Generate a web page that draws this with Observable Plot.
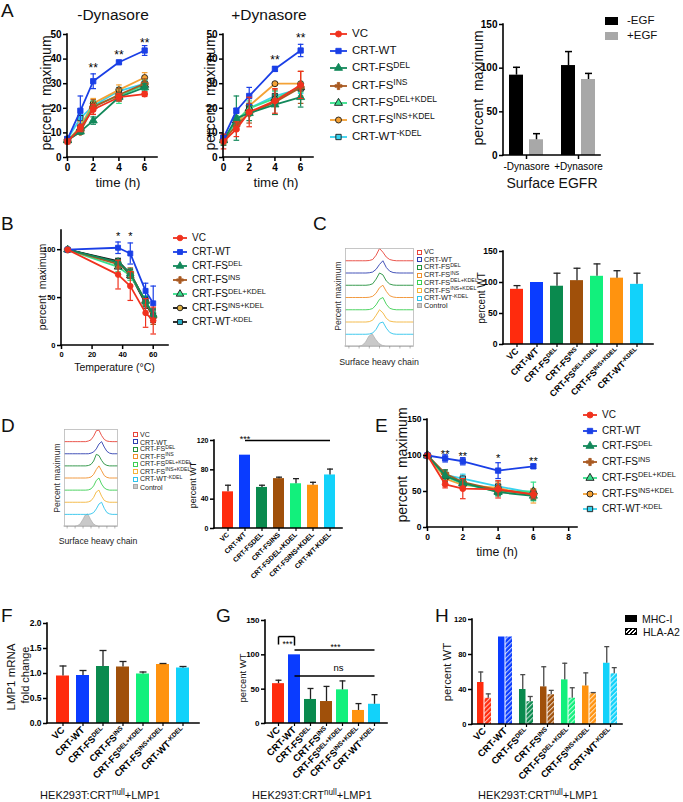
<!DOCTYPE html>
<html><head><meta charset="utf-8">
<script src="https://cdn.jsdelivr.net/npm/d3@7"></script>
<script src="https://cdn.jsdelivr.net/npm/@observablehq/plot@0.6"></script>
<style>
html,body{margin:0;padding:0;background:#fff;}
#fig{position:relative;width:683px;height:802px;overflow:hidden;background:#fff;font-family:"Liberation Sans",Arial,Helvetica,sans-serif;color:#111;}
#fig > svg{position:absolute;}
.t{position:absolute;white-space:nowrap;line-height:1;transform-origin:0 0;}
.sup{font-size:0.74em;position:relative;top:-0.45em;}
.sq{position:absolute;box-sizing:border-box;}
</style></head><body><div id="fig"></div>
<script>
// ================= DATA =================
const SERIES = ["VC","CRT-WT","CRT-FS^DEL","CRT-FS^INS","CRT-FS^DEL+KDEL","CRT-FS^INS+KDEL","CRT-WT^-KDEL"];
const lineColors = ["#f0321e","#1a3fe6","#12885a","#a95a22","#38e08c","#f4a236","#38d2ee"];
const barColors  = ["#ff2b0d","#0a3cff","#0a8a4e","#a0500a","#12f07c","#ff930f","#12d2fa"];
const histColors = ["#e8443a","#2f3fb0","#23903c","#f0902c","#3ccf52","#f3b43a","#2ec4ec"];
const SYMBOLS = ["circle","square","triangle","cross","triangle","circle","square"];

// Panel A: time course, -Dynasore / +Dynasore
const timesA = [0,1,2,4,6];
const dynMinusMean = [
 [6.5,12,19.5,24.5,25.8],
 [7.5,19,31,38.7,43.5],
 [7,10.5,15,24.5,28.5],
 [7,10.5,20.5,25.5,30],
 [7,12,21,25,29.5],
 [7,12.5,22,27.5,32.5],
 [7.5,16,21,27,30]];
const dynMinusErr = [
 [1,1.5,2,1.5,1],
 [1,6,3,0.5,2],
 [1,1,1.5,1.5,1.5],
 [1,1,3,2.5,2],
 [1,1.5,2,3,2],
 [1,2,2,2,2],
 [1,1.5,1.5,1.5,1.5]];
const dynPlusMean = [
 [6.5,11.5,18.5,23,29.5],
 [8,19,25,36,43.5],
 [7,16,18,21.5,24.5],
 [7,13,18,22.5,28.5],
 [7,15,20,24,28.5],
 [7,13,21,30,30],
 [8,14,20,25,28]];
const dynPlusErr = [
 [3,3,6,5,5.5],
 [1,1,3.5,1,2.5],
 [2,9,3,4,4],
 [2,2,4,5,6.5],
 [1.5,2,3,3,2],
 [1.5,2,3,0.5,5],
 [1,2,2,2,2]];
const starsMinusT = [2,4,6], starsMinusY = [37.6,42.8,47.6], starsMinusS = ["**","**","**"];
const starsPlusT = [4,6], starsPlusY = [40.8,49.6], starsPlusS = ["**","**"];

// Panel A: surface EGFR
const egfrGroups = ["-Dynasore","+Dynasore"];
const egfrMinusEGF = [92,103], egfrMinusEGFErr = [9,16];
const egfrPlusEGF = [18,87], egfrPlusEGFErr = [7,7];

// Panel B: thermostability
const tempsB = [4,37,45,55,60];
const bMean = [
 [100,74,62,34,26],
 [100,102,96,57,44],
 [100,87,75,46,32],
 [100,85,76,45,30],
 [100,82,73,47,31],
 [100,87,74,44,30],
 [100,88,75,46,32]];
const bErr = [
 [0,15,15,15,14],
 [0,6,11,8,18],
 [0,3,5,5,6],
 [0,4,5,4,8],
 [0,5,5,5,4],
 [0,3,4,5,6],
 [0,3,4,4,6]];
const starsBT = [37,45], starsBY = [117,117], starsBS = ["*","*"];

// Panel C / D bars (percent WT)
const cVals = [89,100,94,103,110,107,97], cErr = [6,0,21,20,20,12,18];
const dVals = [50,100,56,68,61,59,73], dErr = [9,0,3,2,7,4,8];

// Histograms (fraction of maximum per bin)
const histBins = [0,1,2,3,4,5,6,7,8,9,10,11,12,13,14,15,16,17,18,19,20];
const histC = [
 [0,0,0,0,0,0,0,0.02,0.1,0.45,1,0.7,0.3,0.1,0.03,0,0,0,0,0,0],
 [0,0,0,0,0,0,0,0.02,0.08,0.3,0.7,1,0.45,0.15,0.04,0.01,0,0,0,0,0],
 [0,0,0,0,0,0,0,0.03,0.12,0.5,1,0.85,0.35,0.1,0.02,0,0,0,0,0,0],
 [0,0,0,0,0,0,0,0.02,0.1,0.35,0.8,1,0.5,0.15,0.04,0,0,0,0,0,0],
 [0,0,0,0,0,0,0,0.02,0.1,0.4,0.85,1,0.45,0.12,0.03,0,0,0,0,0,0],
 [0,0,0,0,0,0,0,0.03,0.15,0.55,1,0.75,0.3,0.08,0.02,0,0,0,0,0,0],
 [0,0,0,0,0,0,0,0.02,0.1,0.4,0.9,1,0.5,0.15,0.03,0,0,0,0,0,0]];
const histCControl = [0,0,0,0,0,0.05,0.3,0.8,1,0.55,0.2,0.05,0,0,0,0,0,0,0,0,0];
const histD = [
 [0,0,0,0,0,0,0,0,0,0.05,0.15,0.45,0.9,0.95,0.5,0.18,0.05,0.01,0,0,0],
 [0,0,0,0,0,0,0,0,0,0,0.05,0.15,0.4,0.8,1,0.55,0.2,0.05,0,0,0],
 [0,0,0,0,0,0,0,0,0,0.03,0.12,0.4,0.95,0.85,0.45,0.15,0.04,0,0,0,0],
 [0,0,0,0,0,0,0,0,0,0.02,0.08,0.3,0.7,1,0.6,0.2,0.05,0,0,0,0],
 [0,0,0,0,0,0,0,0,0,0.02,0.1,0.35,0.8,1,0.5,0.18,0.05,0,0,0,0],
 [0,0,0,0,0,0,0,0,0,0.03,0.12,0.4,0.85,1,0.5,0.15,0.04,0,0,0,0],
 [0,0,0,0,0,0,0,0,0,0,0.04,0.15,0.45,0.85,1,0.5,0.15,0.04,0,0,0]];
const histDControl = [0,0,0,0,0,0.03,0.15,0.5,0.9,1,0.55,0.2,0.05,0,0,0,0,0,0,0,0];

// Panel E: time course
const timesE = [0,1,2,4,6];
const eMean = [
 [100,60,54,53,46],
 [100,96,92,79,85],
 [100,72,62,49,44],
 [100,75,63,52,46],
 [100,71,61,50,50],
 [100,68,59,55,44],
 [100,73,68,57,48]];
const eErr = [
 [0,5,14,12,5],
 [0,5,5,11,3],
 [0,8,5,5,6],
 [0,5,4,6,7],
 [0,6,5,6,13],
 [0,5,5,8,10],
 [0,4,6,7,5]];
const starsET = [1,2,4,6], starsEY = [104.6,103,100,96], starsES = ["**","**","*","**"];

// Panel F, G, H
const fVals = [0.95,0.96,1.14,1.13,0.99,1.18,1.11], fErr = [0.2,0.1,0.32,0.11,0.04,0.02,0.03];
const gVals = [58,100,35,32,49,19,28], gErr = [5,0,16,22,13,10,14];
const hMHC = [48,100,40,43,51,44,70], hMHCErr = [12,0,17,23,19,15,19];
const hHLA = [30,100,26,34,30,36,58], hHLAErr = [5,0,6,5,12,0.5,7];

// ================= HELPERS =================
const fig = document.getElementById("fig");
const FONT = "'Liberation Sans', Arial, Helvetica, sans-serif";
const baseStyle = {background: "transparent", overflow: "visible", fontFamily: FONT, fontSize: "10px", color: "#000"};
const capSym = {draw(ctx, size) { const w = Math.sqrt(size / Math.PI); ctx.moveTo(-w, 0); ctx.lineTo(w, 0); }};
const d3sym = {circle: d3.symbolCircle, square: d3.symbolSquare, triangle: d3.symbolTriangle, cross: d3.symbolCross};
const supHTML = s => { const i = s.indexOf("^"); return i < 0 ? s : s.slice(0, i) + `<span class="sup">${s.slice(i + 1)}</span>`; };
const intFmt = d3.format("d");

function frame(l, r, t, b, m = {}) {
  const ml = m.ml ?? 36, mr = m.mr ?? 14, mt = m.mt ?? 18, mb = m.mb ?? 30;
  const left = l - ml, top = t - mt;
  return {left, top, X: a => a - left,
    opts: {width: ml + (r - l) + mr, height: mt + (b - t) + mb, marginLeft: ml, marginRight: mr, marginTop: mt, marginBottom: mb}};
}
function place(svg, F) {
  svg.style.position = "absolute";
  svg.style.left = F.left + "px";
  svg.style.top = F.top + "px";
  svg.style.maxWidth = "none";
  fig.appendChild(svg);
  return svg;
}
function addText(html, x, y, o = {}) {
  const d = document.createElement("div");
  d.className = "t";
  d.innerHTML = html;
  d.style.fontSize = (o.size || 12) + "px";
  if (o.weight) d.style.fontWeight = o.weight;
  if (o.family) d.style.fontFamily = o.family;
  if (o.color) d.style.color = o.color;
  d.style.left = x + "px"; d.style.top = y + "px";
  const ax = {start: "0%", middle: "-50%", end: "-100%"}[o.anchor || "start"];
  d.style.transform = (o.rotate ? `rotate(${o.rotate}deg) ` : "") + `translate(${ax},-50%)`;
  fig.appendChild(d);
  return d;
}
function supify(svg) {
  d3.select(svg).selectAll("text").each(function () {
    const t = this.textContent, i = t.indexOf("^");
    if (i < 0) return;
    const sel = d3.select(this);
    sel.text(null);
    sel.append("tspan").text(t.slice(0, i));
    sel.append("tspan").attr("dy", "-0.45em").style("font-size", "68%").text(t.slice(i + 1));
  });
}
const axisLines = (sw = 1.6) => (index, scales, values, dims) => {
  const {width, height, marginLeft: ml, marginRight: mr, marginTop: mt, marginBottom: mb} = dims;
  const g = d3.create("svg:g").attr("stroke", "#000").attr("stroke-width", sw).attr("stroke-linecap", "square");
  g.append("line").attr("x1", ml).attr("x2", ml).attr("y1", mt).attr("y2", height - mb);
  g.append("line").attr("x1", ml).attr("x2", width - mr).attr("y1", height - mb).attr("y2", height - mb);
  return g.node();
};
const yAx = (ticks, fontSize, fmt = intFmt) => Plot.axisY({ticks, tickSize: 4, tickPadding: 2, fontSize, fontWeight: "bold", strokeWidth: 1.5, label: null, tickFormat: fmt});
const xAx = (ticks, fontSize) => Plot.axisX({ticks, tickSize: 4, tickPadding: 2, fontSize, fontWeight: "bold", strokeWidth: 1.5, label: null, tickFormat: intFmt});

function lineMarks(times, means, errs, lc, mf, mo, r = 3) {
  const marks = [];
  for (let s = SERIES.length - 1; s >= 0; s--) {
    const rows = times.map((t, k) => ({t, m: means[s][k], e: errs[s][k]}));
    const er = rows.filter(d => d.e > 0);
    marks.push(
      Plot.ruleX(er, {x: "t", y1: d => d.m - d.e, y2: d => d.m + d.e, stroke: lc[s], strokeWidth: 1.2}),
      Plot.dot(er, {x: "t", y: d => d.m + d.e, symbol: capSym, r: 2.8, stroke: lc[s], fill: "none", strokeWidth: 1.2}),
      Plot.dot(er, {x: "t", y: d => d.m - d.e, symbol: capSym, r: 2.8, stroke: lc[s], fill: "none", strokeWidth: 1.2}),
      Plot.line(rows, {x: "t", y: "m", stroke: lc[s], strokeWidth: 1.8}),
      Plot.dot(rows, {x: "t", y: "m", symbol: SYMBOLS[s], r, fill: mf[s], stroke: mo[s] || mf[s], strokeWidth: 0.9})
    );
  }
  return marks;
}
const starMarks = (T, Y, S, size = 12) =>
  Plot.text(T.map((t, i) => ({t, y: Y[i], s: S[i]})), {x: "t", y: "y", text: "s", fontSize: size, lineAnchor: "middle", dy: size * 0.25, fill: "#000"});

function lineLegend(x, y0, dy, size, len, lc, mf, mo, r = 3) {
  SERIES.forEach((name, i) => {
    const y = y0 + i * dy;
    const svg = d3.create("svg").attr("width", len).attr("height", 12)
      .style("position", "absolute").style("left", x + "px").style("top", (y - 6) + "px").style("overflow", "visible");
    svg.append("line").attr("x1", 0).attr("x2", len).attr("y1", 6).attr("y2", 6).attr("stroke", lc[i]).attr("stroke-width", 1.8);
    svg.append("path").attr("transform", `translate(${len / 2},6)`)
      .attr("d", d3.symbol(d3sym[SYMBOLS[i]], Math.PI * r * r)())
      .attr("fill", mf[i]).attr("stroke", mo[i] || mf[i]).attr("stroke-width", 0.9);
    fig.appendChild(svg.node());
    addText(supHTML(name), x + len + 5, y, {size});
  });
}
function histLegend(x, y0, dy, size, sq, colors) {
  const names = SERIES.concat(["Control"]);
  names.forEach((name, i) => {
    const y = y0 + i * dy;
    const d = document.createElement("div");
    d.className = "sq";
    d.style.left = x + "px"; d.style.top = (y - sq / 2) + "px";
    d.style.width = sq + "px"; d.style.height = sq + "px";
    if (i < 7) d.style.border = "1px solid " + colors[i];
    else { d.style.background = "#c9c9c9"; d.style.border = "1px solid #a8a8a8"; }
    fig.appendChild(d);
    addText(supHTML(name), x + sq + 2, y, {size, color: "#222"});
  });
}
function histMarks(samples, control) {
  const marks = [];
  const crow = histBins.map((b, k) => ({b, lo: 0, hi: control[k]}));
  marks.push(Plot.areaY(crow, {x: "b", y1: "lo", y2: "hi", fill: "#c9c9c9", stroke: "#a5a5a5", strokeWidth: 0.6}));
  samples.forEach((arr, s) => {
    const base = samples.length - s;
    const rows = histBins.map((b, k) => ({b, y: base + arr[k]}));
    marks.push(Plot.line(rows, {x: "b", y: "y", stroke: histColors[s], strokeWidth: 0.9}));
  });
  marks.push(Plot.frame({stroke: "#b8b8b8", strokeWidth: 0.8}));
  marks.push(Plot.axisX({ticks: [1, 4, 7, 10, 13, 16, 19], tickSize: 2.5, tickFormat: () => "", stroke: "#888", strokeWidth: 0.6, label: null}));
  return marks;
}
const barRows = (vals, errs, names = SERIES) => names.map((name, i) => ({name, v: vals[i], e: errs[i], col: barColors[i]}));
function barMarks(rows, errColor, capR, opts = {}) {
  const er = rows.filter(d => d.e > 0);
  const {dxErr = 0, ...barOpts} = opts;
  return [
    Plot.barY(rows, {x: "name", y: "v", fill: "col", ...barOpts}),
    Plot.ruleX(er, {x: "name", y1: "v", y2: d => d.v + d.e, stroke: errColor, strokeWidth: 1.3, dx: dxErr}),
    Plot.dot(er, {x: "name", y: d => d.v + d.e, symbol: capSym, r: capR, stroke: errColor, fill: "none", strokeWidth: 1.3, dx: dxErr})
  ];
}
const catAxis = (fontSize) => Plot.axisX({tickRotate: -45, tickSize: 3, tickPadding: 2, fontSize, fontWeight: "bold", strokeWidth: 1.2, label: null});

// ================= PANEL A =================
const mfA = lineColors, moA = [null, null, null, null, "#1a1a1a", "#1a1a1a", "#1a1a1a"];
addText("A", 1, 10, {size: 19});
addText("-Dynasore", 113, 15, {size: 15.5, anchor: "middle"});
addText("+Dynasore", 269, 15, {size: 15.5, anchor: "middle"});
{
  const F = frame(67, 157, 34, 157);
  place(Plot.plot({...F.opts, style: baseStyle, x: {domain: [0, 7]}, y: {domain: [0, 50]},
    marks: [...lineMarks(timesA, dynMinusMean, dynMinusErr, lineColors, mfA, moA),
      starMarks(starsMinusT, starsMinusY, starsMinusS), axisLines(),
      xAx([0, 2, 4, 6], 10), yAx([0, 10, 20, 30, 40, 50], 10)]}), F);
}
{
  const F = frame(223, 313, 34, 157);
  place(Plot.plot({...F.opts, style: baseStyle, x: {domain: [0, 7]}, y: {domain: [0, 50]},
    marks: [...lineMarks(timesA, dynPlusMean, dynPlusErr, lineColors, mfA, moA),
      starMarks(starsPlusT, starsPlusY, starsPlusS), axisLines(),
      xAx([0, 2, 4, 6], 10), yAx([0, 10, 20, 30, 40, 50], 10)]}), F);
}
addText("percent&nbsp; maximum", 46, 93, {size: 14, anchor: "middle", rotate: -90});
addText("percent&nbsp; maximum", 210, 93, {size: 14, anchor: "middle", rotate: -90});
addText("time (h)", 118, 183, {size: 13.3, anchor: "middle"});
addText("time (h)", 276, 183, {size: 13.3, anchor: "middle"});
lineLegend(330, 34, 17.2, 11.5, 17, lineColors, mfA, moA);
{
  const F = frame(503, 600, 24, 155);
  const minusRows = egfrGroups.map((g, i) => ({g, v: egfrMinusEGF[i], e: egfrMinusEGFErr[i]}));
  const plusRows = egfrGroups.map((g, i) => ({g, v: egfrPlusEGF[i], e: egfrPlusEGFErr[i]}));
  place(Plot.plot({...F.opts, style: baseStyle,
    x: {type: "band", domain: egfrGroups, range: [F.X(499.75), F.X(604.75)], paddingInner: 0.35, paddingOuter: 0.175},
    y: {domain: [0, 150]},
    marks: [
      Plot.barY(minusRows, {x: "g", y: "v", fill: "#000", insetRight: 20}),
      Plot.barY(plusRows, {x: "g", y: "v", fill: "#a8a8a8", insetLeft: 20}),
      Plot.ruleX(minusRows, {x: "g", y1: "v", y2: d => d.v + d.e, dx: -10, stroke: "#000", strokeWidth: 1.5}),
      Plot.dot(minusRows, {x: "g", y: d => d.v + d.e, dx: -10, symbol: capSym, r: 3.5, stroke: "#000", fill: "none", strokeWidth: 1.5}),
      Plot.ruleX(plusRows, {x: "g", y1: "v", y2: d => d.v + d.e, dx: 10, stroke: "#000", strokeWidth: 1.5}),
      Plot.dot(plusRows, {x: "g", y: d => d.v + d.e, dx: 10, symbol: capSym, r: 3.5, stroke: "#000", fill: "none", strokeWidth: 1.5}),
      axisLines(),
      Plot.axisX({tickSize: 4, tickPadding: 3, fontSize: 10, strokeWidth: 1.5, label: null}),
      yAx([0, 50, 100, 150], 10)]}), F);
}
addText("percent&nbsp; maximum", 478, 88, {size: 14, anchor: "middle", rotate: -90});
addText("Surface EGFR", 552, 183, {size: 14, anchor: "middle"});
{
  const s1 = document.createElement("div"); s1.className = "sq";
  Object.assign(s1.style, {left: "605px", top: "17px", width: "13px", height: "8px", background: "#000"});
  const s2 = document.createElement("div"); s2.className = "sq";
  Object.assign(s2.style, {left: "605px", top: "32px", width: "13px", height: "8px", background: "#a8a8a8"});
  fig.appendChild(s1); fig.appendChild(s2);
  addText("-EGF", 627, 21, {size: 11.5});
  addText("+EGF", 627, 36, {size: 11.5});
}

// ================= PANEL B =================
addText("B", 1, 223, {size: 19});
const lcB = ["#f0321e", "#1a3fe6", "#12885a", "#a95a22", "#38e08c", "#111111", "#1a1a1a"];
const mfB = ["#f0321e", "#1a3fe6", "#12885a", "#a95a22", "#38e08c", "#e0b040", "#2ab0c8"];
const moB = [null, null, null, null, "#1a1a1a", "#1a1a1a", "#1a1a1a"];
{
  const F = frame(61, 168, 230, 345);
  place(Plot.plot({...F.opts, style: baseStyle, x: {domain: [0, 70]}, y: {domain: [0, 120]},
    marks: [...lineMarks(tempsB, bMean, bErr, lcB, mfB, moB, 2.8),
      starMarks(starsBT, starsBY, starsBS, 11), axisLines(),
      xAx([0, 20, 40, 60], 7.5), yAx([0, 50, 100], 7.5)]}), F);
}
addText("percent&nbsp; maximum", 42, 287, {size: 10.5, anchor: "middle", rotate: -90});
addText("Temperature (°C)", 114.5, 367, {size: 10.5, anchor: "middle"});
lineLegend(173, 238, 14, 10, 14, lcB, mfB, moB, 2.8);

// ================= PANEL C =================
addText("C", 313, 223, {size: 19});
{
  const F = frame(345, 413, 248, 346, {ml: 4, mr: 4, mt: 4, mb: 8});
  place(Plot.plot({...F.opts, style: baseStyle, x: {domain: [0, 20]}, y: {domain: [0, 8], axis: null},
    marks: histMarks(histC, histCControl)}), F);
}
addText("Percent maximum", 338, 296, {size: 8.6, anchor: "middle", rotate: -90, color: "#333"});
addText("Surface heavy chain", 379, 362, {size: 8.8, anchor: "middle", color: "#222"});
histLegend(417, 252, 7.7, 7.3, 5, histColors);
{
  const F = frame(503, 653, 251, 344, {ml: 30, mb: 70});
  const svg = Plot.plot({...F.opts, style: baseStyle, color: {type: "identity"},
    x: {type: "band", domain: SERIES, range: [F.X(504.1), F.X(649.9)], paddingInner: 0.33, paddingOuter: 0.165},
    y: {domain: [0, 150]},
    marks: [...barMarks(barRows(cVals, cErr), "#222", 3.5), axisLines(), catAxis(9), yAx([0, 50, 100, 150], 8.6)]});
  supify(svg); place(svg, F);
}
addText("percent WT", 482, 298, {size: 10, anchor: "middle", rotate: -90});

// ================= PANEL D =================
addText("D", 1, 425, {size: 19});
{
  const F = frame(64, 117, 429, 526, {ml: 4, mr: 4, mt: 4, mb: 8});
  place(Plot.plot({...F.opts, style: baseStyle, x: {domain: [0, 20]}, y: {domain: [0, 8], axis: null},
    marks: histMarks(histD, histDControl)}), F);
}
addText("Percent maximum", 57, 478, {size: 8.6, anchor: "middle", rotate: -90, color: "#333"});
addText("Surface heavy chain", 98, 541, {size: 8.7, anchor: "middle", color: "#222"});
histLegend(133, 434, 7.5, 7, 5, histColors);
{
  const namesD = SERIES.map(s => s.replace("^", ""));
  const F = frame(214, 342, 440, 528, {ml: 30, mb: 70});
  const svg = Plot.plot({...F.opts, style: baseStyle, color: {type: "identity"},
    x: {type: "band", domain: namesD, range: [F.X(217.9), F.X(339.7)], paddingInner: 0.34, paddingOuter: 0.17},
    y: {domain: [0, 120]},
    marks: [...barMarks(barRows(dVals, dErr, namesD), "#222", 3),
      Plot.link([{a: namesD[1], b: namesD[6], y: 120}], {x1: "a", x2: "b", y1: "y", y2: "y", stroke: "#000", strokeWidth: 1.5}),
      Plot.text([{a: namesD[1], y: 120}], {x: "a", y: "y", text: () => "***", fontSize: 9, lineAnchor: "bottom", dy: 1}),
      axisLines(), catAxis(7), yAx([0, 40, 80, 120], 7)]});
  place(svg, F);
}
addText("percent WT", 193, 485, {size: 9, anchor: "middle", rotate: -90});

// ================= PANEL E =================
addText("E", 375, 425, {size: 19});
{
  const F = frame(427, 577, 419, 527);
  place(Plot.plot({...F.opts, style: baseStyle, x: {domain: [0, 8.5]}, y: {domain: [0, 150]},
    marks: [...lineMarks(timesE, eMean, eErr, lineColors, mfA, moA),
      starMarks(starsET, starsEY, starsES, 11), axisLines(),
      xAx([0, 2, 4, 6, 8], 8.5), yAx([0, 50, 100, 150], 8.5)]}), F);
}
addText("percent&nbsp; maximum", 402, 465, {size: 14, anchor: "middle", rotate: -90});
addText("time (h)", 497, 552, {size: 12.3, anchor: "middle"});
lineLegend(583, 415, 15.7, 10, 14, lineColors, mfA, moA);

// ================= PANEL F =================
addText("F", 1, 615, {size: 19});
{
  const F = frame(47, 199, 623, 723, {ml: 30, mb: 70});
  const svg = Plot.plot({...F.opts, style: baseStyle, color: {type: "identity"},
    x: {type: "band", domain: SERIES, range: [F.X(49.6), F.X(195.2)], paddingInner: 0.33, paddingOuter: 0.165},
    y: {domain: [0, 2]},
    marks: [...barMarks(barRows(fVals, fErr), "#222", 3.5), axisLines(), catAxis(9.5), yAx([0, 0.5, 1, 1.5, 2], 8.5, d3.format(".1f"))]});
  supify(svg); place(svg, F);
}
addText("LMP1 mRNA", 12, 677, {size: 11.5, anchor: "middle", rotate: -90});
addText("fold change", 25, 675, {size: 11, anchor: "middle", rotate: -90});
addText("HEK293T:CRT<span class='sup'>null</span>+LMP1", 100, 796, {size: 11, anchor: "middle"});

// ================= PANEL G =================
addText("G", 216, 615, {size: 19});
{
  const F = frame(265, 387, 620, 723, {ml: 30, mb: 70});
  const S = SERIES;
  const svg = Plot.plot({...F.opts, style: baseStyle, color: {type: "identity"},
    x: {type: "band", domain: S, range: [F.X(267.6), F.X(384.9)], paddingInner: 0.28, paddingOuter: 0.14},
    y: {domain: [0, 150]},
    marks: [...barMarks(barRows(gVals, gErr), "#222", 3),
      Plot.link([{a: S[0], b: S[0], y1: 115, y2: 126.6}, {a: S[0], b: S[1], y1: 126.6, y2: 126.6}, {a: S[1], b: S[1], y1: 126.6, y2: 113.5}],
        {x1: "a", x2: "b", y1: "y1", y2: "y2", stroke: "#000", strokeWidth: 1.5}),
      Plot.link([{a: S[1], b: S[6], y: 107}, {a: S[1], b: S[6], y: 69}], {x1: "a", x2: "b", y1: "y", y2: "y", stroke: "#000", strokeWidth: 1.5}),
      Plot.text([{a: S[0], y: 119, s: "***"}, {a: S[3], y: 113.5, s: "***"}], {x: "a", y: "y", text: "s", fontSize: 8.5, dx: 9, lineAnchor: "middle", dy: 2}),
      Plot.text([{a: S[3], y: 81, s: "ns"}], {x: "a", y: "y", text: "s", fontSize: 9.5, dx: 12, lineAnchor: "middle"}),
      axisLines(), catAxis(9.5), yAx([0, 50, 100, 150], 8)]});
  supify(svg); place(svg, F);
}
addText("percent WT", 243, 678, {size: 9.5, anchor: "middle", rotate: -90});
addText("HEK293T:CRT<span class='sup'>null</span>+LMP1", 312, 796, {size: 11, anchor: "middle"});

// ================= PANEL H =================
addText("H", 435, 615, {size: 19});
{
  const F = frame(472, 622, 619, 724, {ml: 30, mb: 70});
  const mhcRows = barRows(hMHC, hMHCErr);
  const hlaRows = barRows(hHLA, hHLAErr).map((d, i) => ({...d, col: `url(#hatch${i})`}));
  const svg = Plot.plot({...F.opts, style: baseStyle, color: {type: "identity"},
    x: {type: "band", domain: SERIES, range: [F.X(471.75), F.X(622.25)], paddingInner: 0.35, paddingOuter: 0.175},
    y: {domain: [0, 120]},
    marks: [...barMarks(mhcRows, "#4a4a4a", 2.5, {insetRight: 7.5, dxErr: -3.75}),
      ...barMarks(hlaRows, "#4a4a4a", 2.5, {insetLeft: 7.5, dxErr: 3.75}),
      axisLines(), catAxis(9.5), yAx([0, 40, 80, 120], 7.5)]});
  const defs = d3.select(svg).insert("defs", ":first-child");
  barColors.forEach((c, i) => {
    const p = defs.append("pattern").attr("id", "hatch" + i).attr("patternUnits", "userSpaceOnUse")
      .attr("width", 3.4).attr("height", 3.4).attr("patternTransform", "rotate(45)");
    p.append("rect").attr("width", 3.4).attr("height", 3.4).attr("fill", c);
    p.append("rect").attr("width", 1.1).attr("height", 3.4).attr("fill", "#fff").attr("fill-opacity", 0.7);
  });
  supify(svg); place(svg, F);
}
addText("percent WT", 448, 672, {size: 11.3, anchor: "middle", rotate: -90});
addText("HEK293T:CRT<span class='sup'>null</span>+LMP1", 538, 796, {size: 11, anchor: "middle"});
{
  const s1 = document.createElement("div"); s1.className = "sq";
  Object.assign(s1.style, {left: "625px", top: "615px", width: "12px", height: "7px", background: "#000"});
  const s2 = document.createElement("div"); s2.className = "sq";
  Object.assign(s2.style, {left: "625px", top: "628px", width: "12px", height: "7px", border: "1px solid #000",
    background: "repeating-linear-gradient(-45deg, #000 0 1.6px, #fff 1.6px 3px)"});
  fig.appendChild(s1); fig.appendChild(s2);
  addText("MHC-I", 642, 618.5, {size: 10.5});
  addText("HLA-A2", 643, 631.5, {size: 10.5});
}
</script></body></html>
